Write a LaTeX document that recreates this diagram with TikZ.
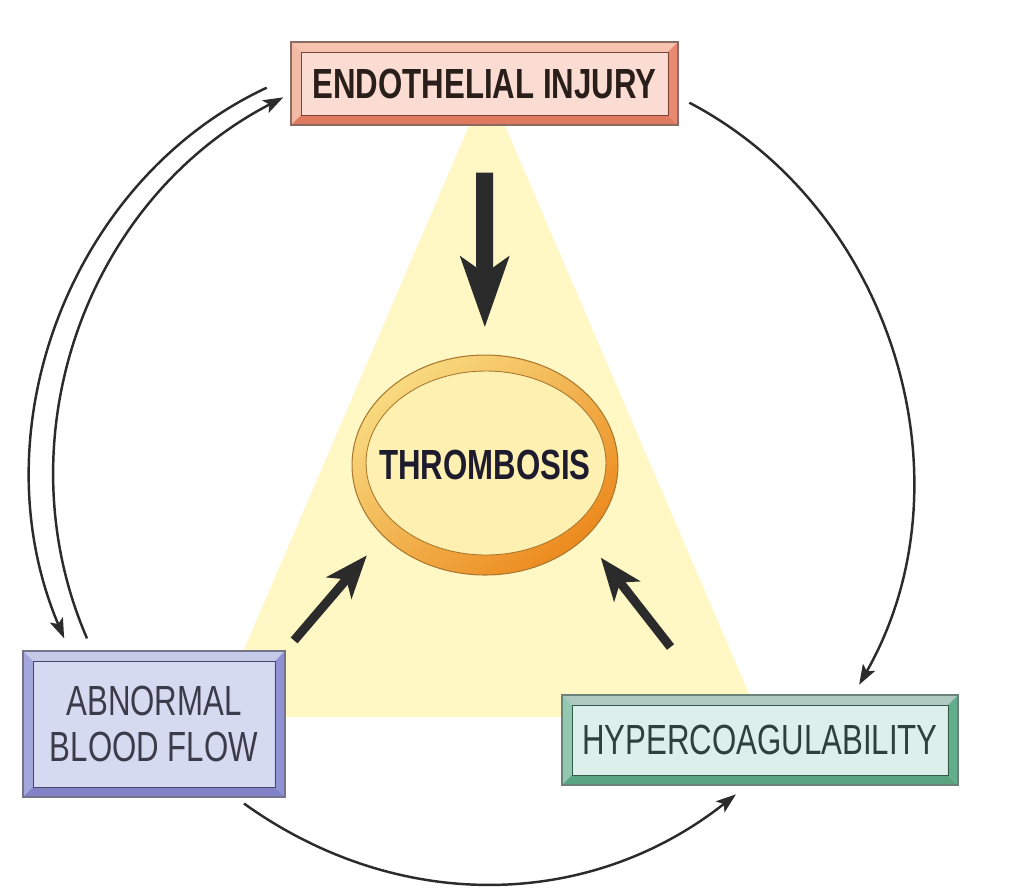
\documentclass[tikz,border=0pt]{standalone}
\usepackage{fontspec}
\usepackage{xcolor}
\usepackage{tikz}
\usetikzlibrary{arrows.meta,shapes.geometric,calc}
\newfontfamily\boxfont[FakeStretch=0.74]{Liberation Sans}

\definecolor{triyellow}{HTML}{FFF7C4}
\definecolor{endoface}{HTML}{FBDCD2}
\definecolor{endotop}{HTML}{F6C4AE}
\definecolor{endoleft}{HTML}{F2BBA5}
\definecolor{endoright}{HTML}{E98A70}
\definecolor{endobottom}{HTML}{DD7A60}
\definecolor{endoline}{HTML}{8C6B62}
\definecolor{endotext}{HTML}{2A1E1A}
\definecolor{abnface}{HTML}{D6DAF0}
\definecolor{abntop}{HTML}{C5CAE8}
\definecolor{abnleft}{HTML}{A4A7DC}
\definecolor{abnright}{HTML}{8E91D2}
\definecolor{abnbottom}{HTML}{8282C8}
\definecolor{abnline}{HTML}{737489}
\definecolor{abntext}{HTML}{3B3B4A}
\definecolor{hypface}{HTML}{DDEFEA}
\definecolor{hyptop}{HTML}{AFC9C0}
\definecolor{hypleft}{HTML}{92C8B2}
\definecolor{hypright}{HTML}{62AE8C}
\definecolor{hypbottom}{HTML}{59A582}
\definecolor{hypline}{HTML}{6A8278}
\definecolor{hyptext}{HTML}{2E3F3C}
\definecolor{ringlight}{HTML}{F8DA80}
\definecolor{ringdark}{HTML}{EC8A1E}
\definecolor{ringline}{HTML}{A9782E}
\definecolor{clotface}{HTML}{FDF0B0}
\definecolor{clottext}{HTML}{1E1B2E}
\definecolor{arrowgray}{HTML}{2B2B2B}

\begin{document}
\begin{tikzpicture}[
  x=0.02cm,
  y=-0.02cm,
  font=\boxfont\fontsize{24}{26.5}\selectfont,
  box/.style={
    rectangle,
    line width=0.8pt,
    inner sep=0pt,
    align=center
  },
  bevel/.style n args={4}{
    path picture={
      \coordinate (nw) at (path picture bounding box.north west);
      \coordinate (ne) at (path picture bounding box.north east);
      \coordinate (se) at (path picture bounding box.south east);
      \coordinate (sw) at (path picture bounding box.south west);
      \fill[#1] (nw) -- (ne) -- ++(-2mm,-2mm) -- ($(nw)+(2mm,-2mm)$) -- cycle;
      \fill[#2] (nw) -- (sw) -- ++(2mm,2mm) -- ($(nw)+(2mm,-2mm)$) -- cycle;
      \fill[#3] (ne) -- (se) -- ++(-2mm,2mm) -- ($(ne)+(-2mm,-2mm)$) -- cycle;
      \fill[#4] (sw) -- (se) -- ++(-2mm,2mm) -- ($(sw)+(2mm,2mm)$) -- cycle;
      \draw[#4!55!black, line width=0.5pt]
        ($(nw)+(2mm,-2mm)$) rectangle ($(se)+(-2mm,2mm)$);
    }
  },
  bold label/.style={
    font=\boxfont\bfseries\fontsize{24}{26.5}\selectfont
  },
  arc arr/.style={
    draw=arrowgray,
    line width=1.4pt,
    -{Stealth[length=0.4cm,width=0.28cm,inset=0.09cm]}
  },
  big arr/.style={
    draw=arrowgray,
    line width=0.34cm,
    -{Stealth[length=1.4cm,width=0.95cm,inset=0.32cm]}
  },
  mid arr/.style={
    draw=arrowgray,
    line width=0.18cm,
    -{Stealth[length=0.85cm,width=0.65cm,inset=0.22cm]}
  }
]
\useasboundingbox (0,0) rectangle (1017,887);
\fill[triyellow] (487,84) -- (759,717) -- (215,717) -- cycle;
\node[
  box,
  bold label,
  draw=endoline,
  fill=endoface,
  bevel={endotop}{endoleft}{endoright}{endobottom},
  minimum width=7.74cm,
  minimum height=1.66cm,
  text=endotext
] (endo) at (484.5,83.5)
{ENDOTHELIAL INJURY};
\node[
  box,
  draw=abnline,
  fill=abnface,
  bevel={abntop}{abnleft}{abnright}{abnbottom},
  minimum width=5.24cm,
  minimum height=2.92cm,
  text=abntext
] (abn) at (154,724)
{ABNORMAL\\BLOOD FLOW};
\node[
  box,
  draw=hypline,
  fill=hypface,
  bevel={hyptop}{hypleft}{hypright}{hypbottom},
  minimum width=7.92cm,
  minimum height=1.8cm,
  text=hyptext
] (hyp) at (760,740)
{HYPERCOAGULABILITY};
\node[
  ellipse,
  bold label,
  draw=ringline,
  line width=0.6pt,
  minimum width=5.32cm,
  minimum height=4.4cm,
  inner sep=0pt,
  top color=ringlight,
  bottom color=ringdark,
  shading angle=40,
  path picture={
    \fill[clotface, draw=ringline, line width=0.5pt]
      ($(path picture bounding box.center)+(0.02cm,0.04cm)$)
      ellipse[x radius=2.4cm, y radius=1.84cm];
  },
  text=clottext
] (throm) at (485,465)
{\makebox[0pt]{THROMBOSIS}};
\draw[big arr, shorten <=0.94cm, shorten >=0.54cm] (endo) -- (throm);
\draw[mid arr, shorten <=0.26cm, shorten >=0.5cm] (abn.north east) -- (throm.215);
\draw[mid arr, shorten <=1.2cm, shorten >=0.5cm] (hyp.139) -- (throm.-36);
\draw[arc arr, shorten <=0.52cm, shorten >=0.26cm]
  (endo.178) to[bend right=44] (abn.139);
\draw[arc arr, shorten <=0.26cm, shorten >=0.16cm]
  (abn.130) to[bend left=43] (endo.183);
\draw[arc arr, shorten <=0.24cm, shorten >=0.22cm]
  (endo.-4) to[bend left=46] (hyp.26);
\draw[arc arr, shorten <=0.2cm, shorten >=0.28cm]
  (abn.-42) to[bend right=37] (hyp.-106);
\end{tikzpicture}
\end{document}
